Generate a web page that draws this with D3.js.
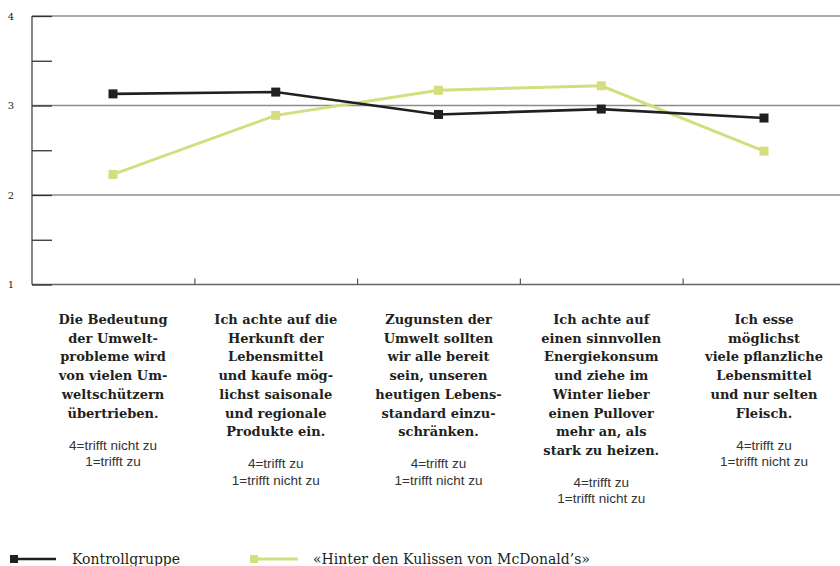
<!DOCTYPE html>
<html>
<head>
<meta charset="utf-8">
<script src="https://cdn.jsdelivr.net/npm/d3@7"></script>
<style>
  body { margin: 0; background: #fff; }
</style>
</head>
<body>
<script>
const statements = [
  ["Die Bedeutung", "der Umwelt-", "probleme wird", "von vielen Um-", "weltschützern", "übertrieben."],
  ["Ich achte auf die", "Herkunft der", "Lebensmittel", "und kaufe mög-", "lichst saisonale", "und regionale", "Produkte ein."],
  ["Zugunsten der", "Umwelt sollten", "wir alle bereit", "sein, unseren", "heutigen Lebens-", "standard einzu-", "schränken."],
  ["Ich achte auf", "einen sinnvollen", "Energiekonsum", "und ziehe im", "Winter lieber", "einen Pullover", "mehr an, als", "stark zu heizen."],
  ["Ich esse", "möglichst", "viele pflanzliche", "Lebensmittel", "und nur selten", "Fleisch."]
];
const scaleNotes = [
  ["4=trifft nicht zu", "1=trifft zu"],
  ["4=trifft zu", "1=trifft nicht zu"],
  ["4=trifft zu", "1=trifft nicht zu"],
  ["4=trifft zu", "1=trifft nicht zu"],
  ["4=trifft zu", "1=trifft nicht zu"]
];
const kontrollgruppe = [3.13, 3.15, 2.90, 2.96, 2.86];
const mcdonalds = [2.23, 2.89, 3.17, 3.22, 2.49];
const seriesNames = ["Kontrollgruppe", "«Hinter den Kulissen von McDonald’s»"];
const yTicks = [1, 2, 3, 4];
const yMinorTicks = [1.5, 2.5, 3.5];

const width = 840;
const height = 566;
const black = "#231f20";
const green = "#d4de7e";
const serif = "'DejaVu Serif', serif";

const svg = d3.select("body").append("svg")
  .attr("width", width)
  .attr("height", height);

const idx = d3.range(statements.length);

//Scales
const x = d3.scalePoint().domain(idx).range([113, 764]);
const y = d3.scaleLinear().domain([1, 4]).range([284.5, 16]);
const left = 32;

//Gridlines at 2, 3, 4
svg.append("g")
  .selectAll("line")
  .data(yTicks.filter((d) => d > 1))
  .enter()
  .append("line")
  .attr("x1", left)
  .attr("x2", width)
  .attr("y1", (d) => y(d))
  .attr("y2", (d) => y(d))
  .attr("stroke", "#8c8c8c")
  .attr("stroke-width", 1.4);

//Bottom axis with ticks between statements
const xAxis = d3.axisTop(d3.scaleLinear().domain([0, statements.length - 1]).range(x.range()))
  .tickValues(d3.range(0.5, statements.length - 1, 1))
  .tickSize(6)
  .tickFormat("");
const gx = svg.append("g")
  .attr("transform", "translate(0," + y(1) + ")")
  .call(xAxis);
gx.select(".domain").remove();
gx.selectAll("line").attr("stroke", "#555").attr("stroke-width", 1.2);
svg.append("line")
  .attr("x1", left).attr("x2", width)
  .attr("y1", y(1)).attr("y2", y(1))
  .attr("stroke", "#666").attr("stroke-width", 1.4);

//Left axis
const yAxis = d3.axisRight(y)
  .tickValues(yTicks.concat(yMinorTicks))
  .tickSize(20)
  .tickFormat("");
const gy = svg.append("g")
  .attr("transform", "translate(" + left + ",0)")
  .call(yAxis);
gy.select(".domain").attr("stroke", "#555").attr("stroke-width", 1.4).attr("d", "M0," + y(4) + "V" + y(1));
gy.selectAll("line").attr("stroke", "#333").attr("stroke-width", 1.3);

svg.append("g")
  .selectAll("text")
  .data(yTicks)
  .enter()
  .append("text")
  .attr("x", 11)
  .attr("y", (d) => y(d) + 3.5)
  .attr("text-anchor", "middle")
  .attr("font-family", serif)
  .attr("font-size", 10)
  .attr("fill", "#222")
  .text((d) => d);

//Lines
const line = d3.line()
  .x((d, i) => x(i))
  .y((d) => y(d));

const series = [
  { name: seriesNames[1], values: mcdonalds, color: green, width: 3 },
  { name: seriesNames[0], values: kontrollgruppe, color: black, width: 2.6 }
];

series.forEach((s) => {
  svg.append("path")
    .datum(s.values)
    .attr("fill", "none")
    .attr("stroke", s.color)
    .attr("stroke-width", s.width)
    .attr("d", line);
  svg.append("g")
    .selectAll("rect")
    .data(s.values)
    .enter()
    .append("rect")
    .attr("x", (d, i) => x(i) - 4.5)
    .attr("y", (d) => y(d) - 4.5)
    .attr("width", 9)
    .attr("height", 9)
    .attr("fill", s.color);
});

//Statement labels
const lineHeight = 18.7;
const labels = svg.append("g")
  .selectAll("g")
  .data(idx)
  .enter()
  .append("g")
  .attr("transform", (i) => "translate(" + x(i) + ",324)");

labels.each(function (i) {
  const g = d3.select(this);
  g.selectAll("text.stmt")
    .data(statements[i])
    .enter()
    .append("text")
    .attr("class", "stmt")
    .attr("y", (d, j) => j * lineHeight)
    .attr("text-anchor", "middle")
    .attr("font-family", serif)
    .attr("font-weight", "bold")
    .attr("font-size", 13)
    .attr("fill", black)
    .text((d) => d);
  const base = (statements[i].length - 1) * lineHeight + 32;
  g.selectAll("text.note")
    .data(scaleNotes[i])
    .enter()
    .append("text")
    .attr("class", "note")
    .attr("y", (d, j) => base + j * 16.5)
    .attr("text-anchor", "middle")
    .attr("font-family", "'Liberation Sans', Arial, sans-serif")
    .attr("font-size", 13.5)
    .attr("fill", "#333")
    .text((d) => d);
});

//Legend
const legendX = [10, 250];
const legend = svg.append("g")
  .selectAll("g")
  .data([series[1], series[0]])
  .enter()
  .append("g")
  .attr("transform", (d, i) => "translate(" + legendX[i] + ",559)");
legend.append("rect")
  .attr("x", 0).attr("y", -4).attr("width", 8).attr("height", 8)
  .attr("fill", (d) => d.color);
legend.append("line")
  .attr("x1", 6).attr("x2", (d, i) => (i === 0 ? 46 : 48))
  .attr("stroke", (d) => d.color)
  .attr("stroke-width", (d) => d.width);
legend.append("text")
  .attr("x", (d, i) => (i === 0 ? 62 : 63))
  .attr("y", 5)
  .attr("font-family", serif)
  .attr("font-size", 14)
  .attr("fill", black)
  .text((d) => d.name);
</script>
</body>
</html>
